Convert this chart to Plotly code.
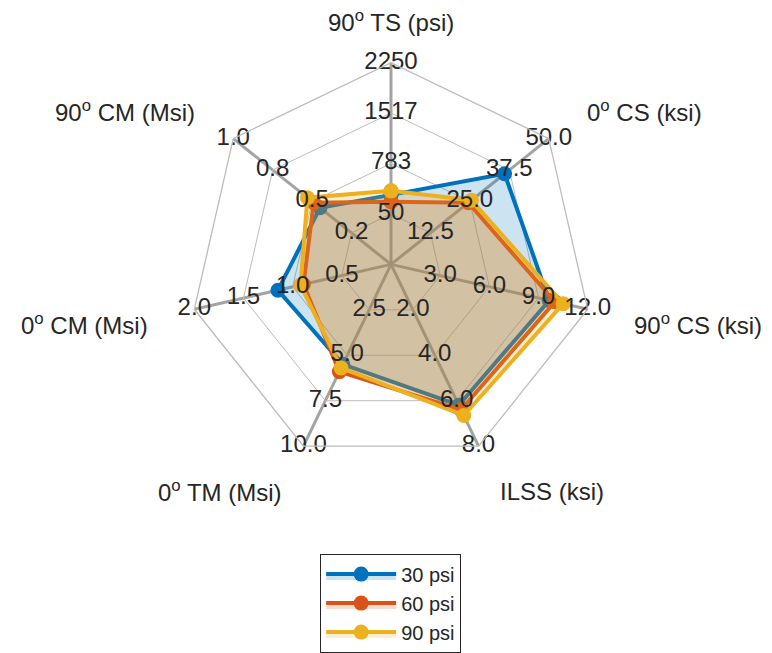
import math
import plotly.graph_objects as go

# Seven property axes, clockwise from the top
axis_names = ["90<sup>o</sup> TS (psi)", "0<sup>o</sup> CS (ksi)", "90<sup>o</sup> CS (ksi)",
              "ILSS (ksi)", "0<sup>o</sup> TM (Msi)", "0<sup>o</sup> CM (Msi)", "90<sup>o</sup> CM (Msi)"]
axis_keys = ["TS90", "CS0", "CS90", "ILSS", "TM0", "CM0", "CM90"]
axis_min = [50, 12.5, 3.0, 2.0, 2.5, 0.5, 0.25]
axis_max = [2250, 50.0, 12.0, 8.0, 10.0, 2.0, 1.0]
tick_labels = [
    ["50", "783", "1517", "2250"],
    ["12.5", "25.0", "37.5", "50.0"],
    ["3.0", "6.0", "9.0", "12.0"],
    ["2.0", "4.0", "6.0", "8.0"],
    ["2.5", "5.0", "7.5", "10.0"],
    ["0.5", "1.0", "1.5", "2.0"],
    ["0.2", "0.5", "0.8", "1.0"],
]

series_names = ["30 psi", "60 psi", "90 psi"]
psi30 = [327, 36.0, 9.65, 6.2, 5.5, 1.15, 0.45]
psi60 = [228, 24.5, 10.0, 6.4, 5.9, 0.89, 0.49]
psi90 = [386, 25.5, 10.5, 6.65, 5.7, 0.92, 0.53]
series_values = [psi30, psi60, psi90]

line_colors = ["#0072BD", "#D95319", "#EDB120"]
fill_colors = ["rgba(0,114,189,0.2)", "rgba(217,83,25,0.2)", "rgba(237,177,32,0.2)"]

FONT = "Liberation Sans, Arial, sans-serif"
N_LEVELS = 4  # ring levels; the innermost ring is the axis minimum


def scale(v, lo, hi):
    # one empty interval at the centre, then min..max over the remaining rings
    return (1 + (N_LEVELS - 1) * (v - lo) / (hi - lo)) / N_LEVELS


fig = go.Figure()

for name, vals, lc, fc in zip(series_names, series_values, line_colors, fill_colors):
    r = [scale(v, lo, hi) for v, lo, hi in zip(vals, axis_min, axis_max)]
    fig.add_trace(go.Scatterpolar(
        r=r + r[:1], theta=axis_keys + axis_keys[:1],
        mode="lines+markers", name=name,
        line=dict(color=lc, width=4),
        marker=dict(color=lc, size=15),
        fill="toself", fillcolor=fc,
        hoverinfo="skip",
    ))

# ring value labels on every spoke
lab_r, lab_t, lab_s = [], [], []
for key, labels in zip(axis_keys, tick_labels):
    for i, s in enumerate(labels):
        lab_r.append((i + 1) / N_LEVELS)
        lab_t.append(key)
        lab_s.append(s)
fig.add_trace(go.Scatterpolar(
    r=lab_r, theta=lab_t, text=lab_s, mode="text",
    textfont=dict(family=FONT, size=24, color="#262626"),
    textposition="middle center", showlegend=False, hoverinfo="skip",
    cliponaxis=False,
))

W, H = 772, 653
cx, cy, R = 391, 266, 203

# axis titles around the web
annotations = []
n = len(axis_names)
for k, name in enumerate(axis_names):
    b = 2 * math.pi * k / n
    rl = 1.22 * R
    px = cx + rl * math.sin(b)
    py = cy - rl * math.cos(b)
    if k == 0:
        xa = "center"
        py = 21
    elif k <= 3:
        xa = "left"
    else:
        xa = "right"
    if 2 <= k <= 5:
        py += 5
    annotations.append(dict(
        x=px / W, y=1 - py / H, xref="paper", yref="paper",
        text=name, showarrow=False, xanchor=xa, yanchor="middle",
        font=dict(family=FONT, size=24, color="#262626"),
    ))

fig.update_layout(
    width=W, height=H,
    margin=dict(l=0, r=0, t=0, b=0),
    paper_bgcolor="white", plot_bgcolor="white",
    annotations=annotations,
    polar=dict(
        domain=dict(x=[(cx - R) / W, (cx + R) / W], y=[1 - (cy + R) / H, 1 - (cy - R) / H]),
        bgcolor="white",
        gridshape="linear",
        radialaxis=dict(range=[0, 1], tickvals=[0.25, 0.5, 0.75, 1.0],
                        showticklabels=False, ticks="", showline=False,
                        gridcolor="#bcbcbc", gridwidth=1.3),
        angularaxis=dict(type="category", categoryarray=axis_keys,
                         direction="clockwise", rotation=90,
                         showticklabels=False, ticks="",
                         gridcolor="#a3a3a3", gridwidth=3,
                         showline=True, linecolor="#bcbcbc", linewidth=1.3),
    ),
    showlegend=True,
    legend=dict(
        x=0.506, y=1 - 557 / H, xanchor="center", yanchor="top",
        bordercolor="#262626", borderwidth=1, bgcolor="white",
        font=dict(family=FONT, size=20, color="#262626"),
        itemwidth=70, tracegroupgap=0,
    ),
)

fig.write_html("out.html")
